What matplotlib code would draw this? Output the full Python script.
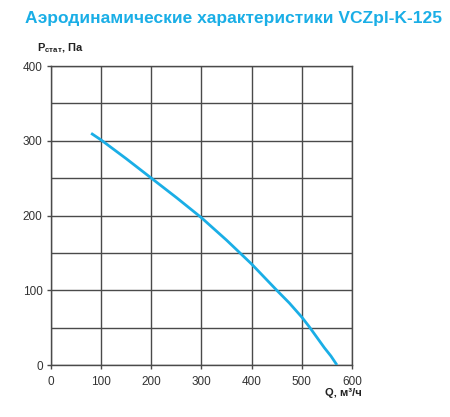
import matplotlib.pyplot as plt
import numpy as np

plt.rcParams['font.family'] = ['Liberation Sans', 'DejaVu Sans']

# airflow, m3/h  vs  static pressure, Pa
q = [80, 100, 150, 200, 250, 300, 350, 400, 450, 475, 500, 515, 530, 545, 558, 570]
p = [310, 301, 276, 250, 224, 197, 167, 135, 100, 83, 64, 51, 37, 23, 12, 0]

xticks = [0, 100, 200, 300, 400, 500, 600]
yticks = [0, 100, 200, 300, 400]

fig = plt.figure(figsize=(4.5, 4.17), dpi=100)
ax = fig.add_axes([0.1133, 0.1247, 0.6689, 0.717])

ax.set_xlim(0, 600)
ax.set_ylim(0, 400)
ax.set_xticks(xticks)
ax.set_yticks(yticks)
ax.set_yticks(np.arange(50, 400, 100), minor=True)

ax.grid(True, which='major', color='#4a4a4a', lw=1.0)
ax.grid(True, which='minor', axis='y', color='#4a4a4a', lw=1.0)
ax.tick_params(which='minor', length=0)
ax.tick_params(which='major', length=3, width=1, color='#4a4a4a',
               labelsize=8.5, labelcolor='#333333')
ax.tick_params(axis='x', pad=5)
ax.tick_params(axis='y', pad=3)
for s in ax.spines.values():
    s.set_color('#4a4a4a')
    s.set_linewidth(1.0)

ax.plot(q, p, color='#1AAEE6', lw=2, solid_capstyle='butt', zorder=3)

fig.text(0.055, 0.955, 'Аэродинамические характеристики VCZpl-K-125',
         fontsize=12.5, fontweight='bold', color='#1AAEE6', va='center')
fig.text(0.082, 0.885, r'P$_{\mathregular{стат}}$, Па', fontsize=8, fontweight='bold',
         color='#222222', va='center')
fig.text(0.804, 0.058, 'Q, м³/ч', fontsize=8, fontweight='bold',
         color='#222222', ha='right', va='center')

fig.savefig('out.png', dpi=100)
